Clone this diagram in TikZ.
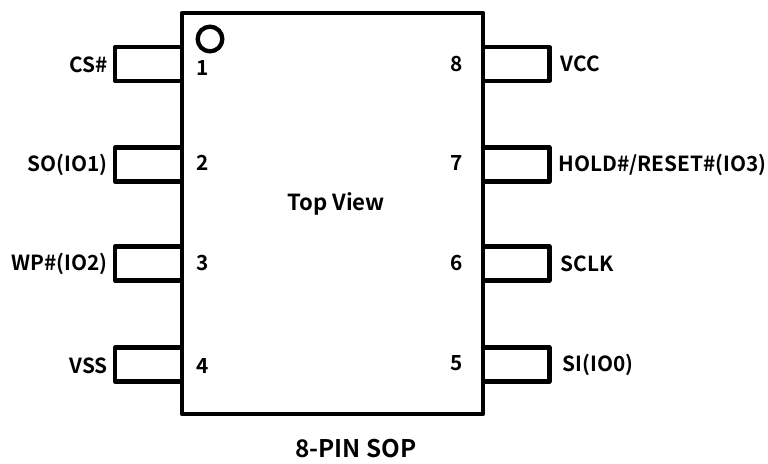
\documentclass[tikz,border=0pt]{standalone}
\usepackage{fontspec}
\setmainfont{Noto Sans CJK SC}[BoldFont={Noto Sans CJK SC Bold}]
\usetikzlibrary{positioning}
\tikzset{
    pin/.style={
        rectangle,
        draw=black,
        line width=3.25pt,
        line join=round,
        minimum width=50pt,
        minimum height=25.5pt,
        inner sep=0pt
    },
    package/.style={
        rectangle,
        draw=black,
        fill=white,
        line width=3.25pt,
        line join=round,
        minimum width=225.75pt,
        minimum height=300.75pt,
        inner sep=0pt
    },
    pinname/.style={
        font=\bfseries\fontsize{15.6pt}{18pt}\selectfont,
        inner sep=0pt
    },
    pinnum/.style={
        font=\bfseries\fontsize{15.6pt}{18pt}\selectfont,
        inner sep=0pt
    }
}
\begin{document}
\begin{tikzpicture}[x=0.75pt,y=-0.75pt,node distance=5.25pt]
    \useasboundingbox (0,0) rectangle (768,464);
    % left pins
    \node[pin] (P1) at (148.5,64) {};
    \node[pin] (P2) at (148.5,164.5) {};
    \node[pin] (P3) at (148.5,263.5) {};
    \node[pin] (P4) at (148.5,364.5) {};
    % right pins
    \node[pin] (P8) at (516,64) {};
    \node[pin] (P7) at (516,164.5) {};
    \node[pin] (P6) at (516,263.5) {};
    \node[pin] (P5) at (516,364.5) {};
    % package on top of the pin ends
    \node[package] (chip) at (332.5,213.5) {};
    \node[circle,draw=black,line width=3.25pt,minimum size=18.5pt,inner sep=0pt] (dot) at (210,39) {};
    % pin names
    \node[pinname,left=of P1,xshift=1.5pt,yshift=-0.75pt] (CS) {CS\#};
    \node[pinname,left=of P2,xshift=1.5pt] (SO) {SO(IO1)};
    \node[pinname,left=of P3,xshift=1.5pt] (WP) {WP\#(IO2)};
    \node[pinname,left=of P4,xshift=1.5pt,yshift=-0.75pt] (VSS) {VSS};
    \node[pinname,right=of P8,xshift=1.5pt] (VCC) {VCC};
    \node[pinname,right=of P7] (HOLD) {HOLD\#/RESET\#(IO3)};
    \node[pinname,right=of P6,xshift=1.5pt] (SCLK) {SCLK};
    \node[pinname,right=of P5,xshift=3pt] (SI) {SI(IO0)};
    % pin numbers
    \node[pinnum] (N1) at (203,68) {1};
    \node[pinnum] (N2) at (203,163) {2};
    \node[pinnum] (N3) at (203,263) {3};
    \node[pinnum] (N4) at (203,366) {4};
    \node[pinnum] (N8) at (457,64) {8};
    \node[pinnum] (N7) at (457,163) {7};
    \node[pinnum] (N6) at (457,263) {6};
    \node[pinnum] (N5) at (457,363) {5};
    % titles
    \node[font=\bfseries\fontsize{16.6pt}{20pt}\selectfont,inner sep=0pt] (top view) at (336,204) {Top View};
    \node[font=\bfseries\fontsize{18.2pt}{22pt}\selectfont,inner sep=0pt] (sop) at (356,449) {8-PIN SOP};
\end{tikzpicture}
\end{document}
